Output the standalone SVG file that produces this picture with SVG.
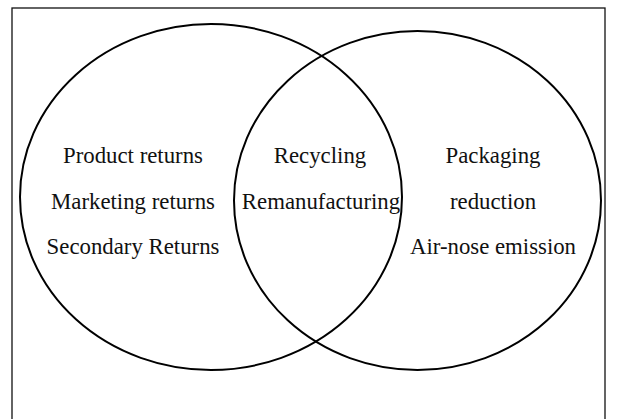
<svg xmlns="http://www.w3.org/2000/svg" width="617" height="419" viewBox="0 0 617 419">
<style>
.set{fill:none;stroke:#000;stroke-width:2}
.frame{fill:#fff;stroke:#111;stroke-width:1.3}
.lbl{font-family:"Liberation Serif","Times New Roman",serif;font-size:22.8px;fill:#111;text-anchor:middle}
</style>
<rect class="frame" x="12" y="8" width="593" height="420"/>
<g id="set-left">
<ellipse class="set" cx="211" cy="197" rx="191" ry="173"/>
<text class="lbl" x="133" y="163">Product returns</text>
<text class="lbl" x="133" y="209">Marketing returns</text>
<text class="lbl" x="133" y="254">Secondary Returns</text>
</g>
<g id="set-right">
<ellipse class="set" cx="417.5" cy="200.5" rx="183.5" ry="169.5"/>
<text class="lbl" x="493" y="163">Packaging</text>
<text class="lbl" x="493" y="209">reduction</text>
<text class="lbl" x="493" y="254">Air-nose emission</text>
</g>
<g id="intersection">
<text class="lbl" x="320" y="163">Recycling</text>
<text class="lbl" x="321" y="209">Remanufacturing</text>
</g>
</svg>
